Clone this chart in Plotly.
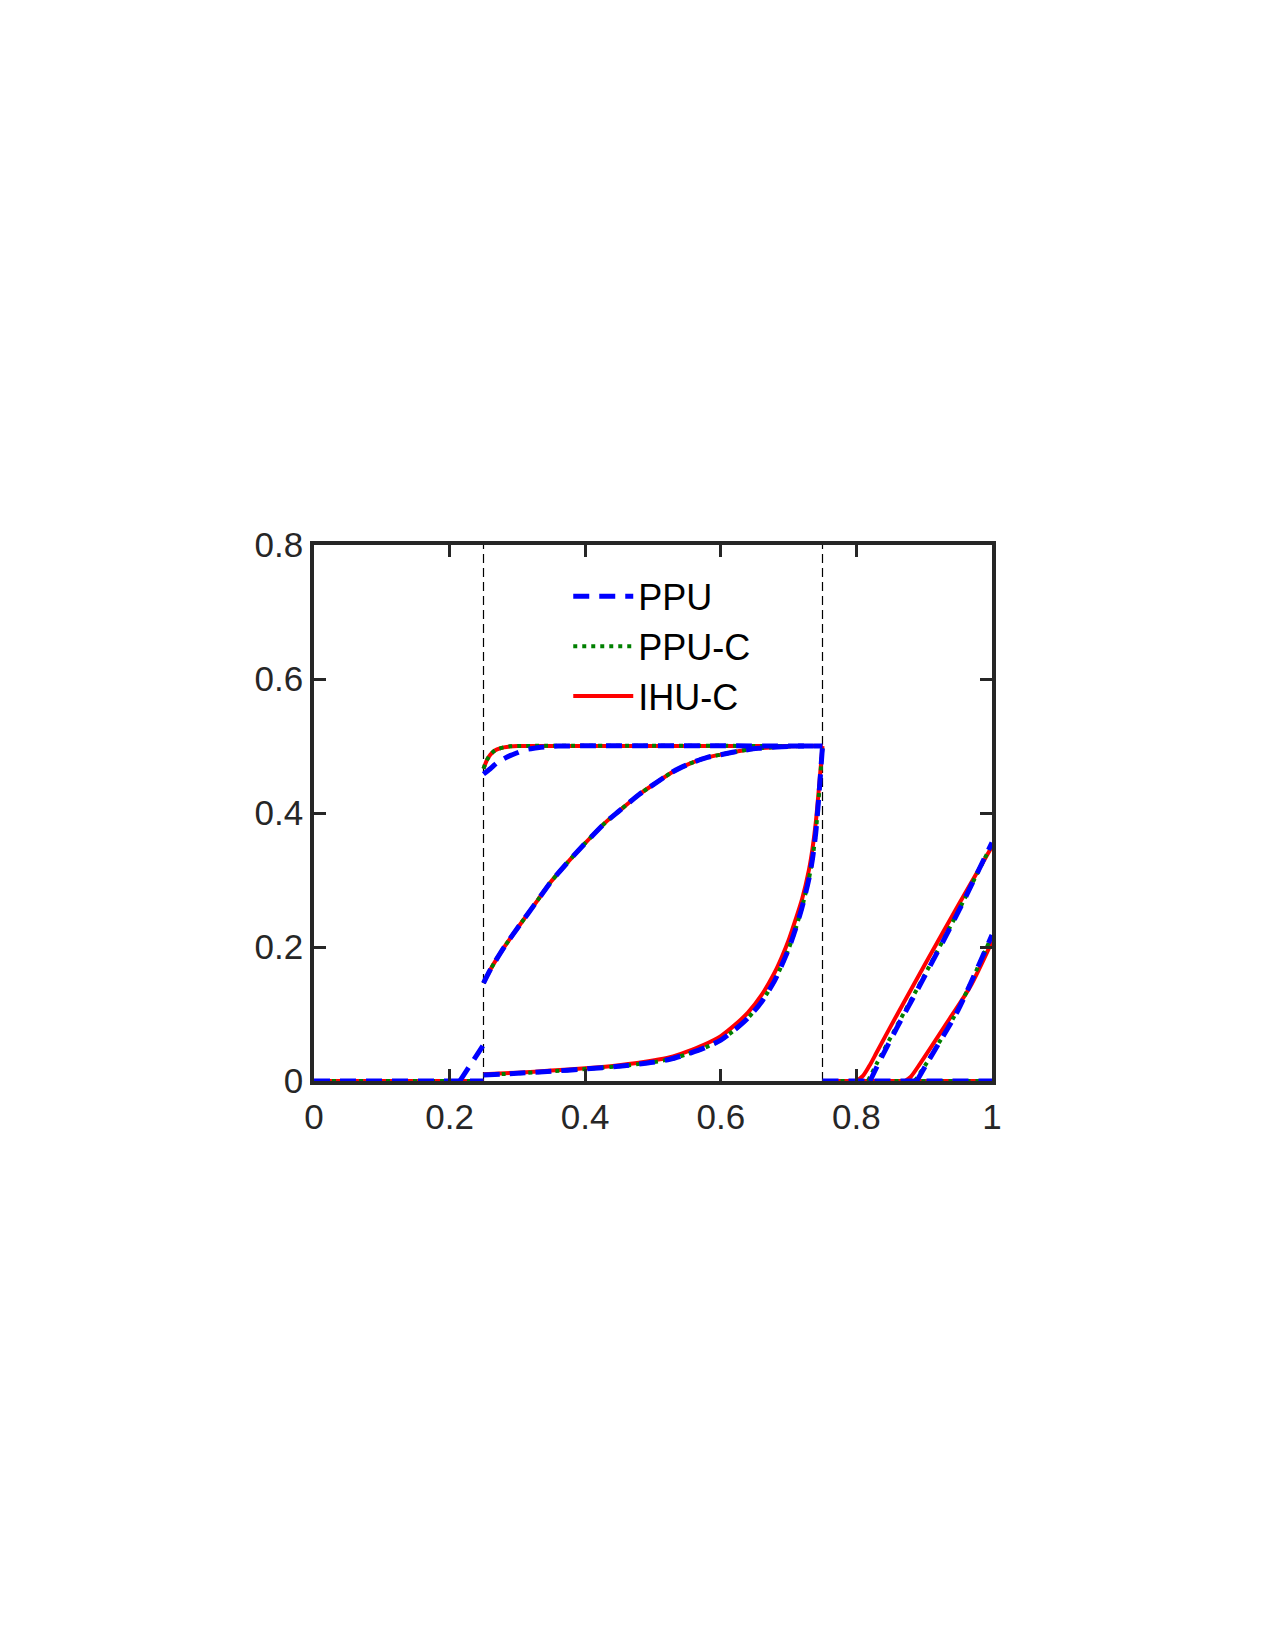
import plotly.graph_objects as go

# ---------------- data ----------------
interfaces = [0.25, 0.75]

# left region zero line (all methods)
left_x = [0.0, 0.25]
left_y = [0.0, 0.0]
# PPU only: small rise just before x = 0.25
ppu_rise_x = [0.215, 0.25]
ppu_rise_y = [0.0, 0.054]

# right region zero line (all methods)
right_x = [0.75, 1.0]
right_y = [0.0, 0.0]

# top snapshot in [0.25, 0.75]
top_x_c = [0.25, 0.255, 0.26, 0.265, 0.27, 0.28, 0.29, 0.30, 0.75]
top_y_c = [0.466, 0.479, 0.487, 0.492, 0.495, 0.498, 0.4995, 0.5, 0.5]
top_x_ppu = [0.25, 0.26, 0.27, 0.28, 0.29, 0.30, 0.31, 0.32, 0.335, 0.35, 0.36, 0.75]
top_y_ppu = [0.458, 0.466, 0.475, 0.481, 0.486, 0.490, 0.494, 0.496, 0.498, 0.4995, 0.5, 0.5]

# middle snapshot in [0.25, 0.75]
mid_x = [0.25, 0.26, 0.28, 0.30, 0.33, 0.35, 0.38, 0.40, 0.43, 0.45, 0.48, 0.50,
         0.53, 0.555, 0.58, 0.605, 0.63, 0.655, 0.69, 0.72, 0.75]
mid_y = [0.146, 0.166, 0.199, 0.228, 0.270, 0.298, 0.333, 0.355, 0.386, 0.403, 0.428, 0.442,
         0.462, 0.474, 0.483, 0.488, 0.493, 0.4965, 0.499, 0.5, 0.5]

# bottom snapshot in [0.25, 0.75]
bot_x = [0.25, 0.30, 0.35, 0.40, 0.45, 0.50, 0.525, 0.55, 0.575, 0.60, 0.62, 0.64, 0.66, 0.68,
         0.69, 0.70, 0.71, 0.72, 0.73, 0.735, 0.74, 0.745, 0.75]
bot_y_ihu = [0.010, 0.0125, 0.0155, 0.019, 0.0236, 0.0305, 0.0354, 0.0438, 0.054, 0.067, 0.083,
             0.102, 0.128, 0.163, 0.185, 0.210, 0.240, 0.272, 0.315, 0.345, 0.385, 0.44, 0.50]
bot_y_ppu = [0.009, 0.0115, 0.0145, 0.018, 0.022, 0.028, 0.0325, 0.040, 0.049, 0.061, 0.076,
             0.094, 0.118, 0.151, 0.173, 0.197, 0.226, 0.260, 0.302, 0.330, 0.370, 0.43, 0.50]

# right-region ramps
ramp1_x_ihu = [0.80, 0.81, 0.82, 0.83, 0.86, 0.90, 0.95, 1.0]
ramp1_y_ihu = [0.0, 0.008, 0.024, 0.043, 0.099, 0.172, 0.262, 0.350]
ramp1_x_ppuc = [0.817, 0.83, 0.86, 0.90, 0.95, 1.0]
ramp1_y_ppuc = [0.0, 0.026, 0.083, 0.157, 0.253, 0.354]
ramp1_x_ppu = [0.82, 0.835, 0.86, 0.90, 0.95, 1.0]
ramp1_y_ppu = [0.0, 0.031, 0.080, 0.155, 0.252, 0.356]

ramp2_x_ihu = [0.872, 0.88, 0.894, 0.933, 0.968, 1.0]
ramp2_y_ihu = [0.0, 0.006, 0.026, 0.086, 0.141, 0.208]
ramp2_x_ppuc = [0.886, 0.905, 0.95, 1.0]
ramp2_y_ppuc = [0.0, 0.029, 0.107, 0.217]
ramp2_x_ppu = [0.889, 0.905, 0.95, 1.0]
ramp2_y_ppu = [0.0, 0.028, 0.106, 0.218]

x_ticks = [0, 0.2, 0.4, 0.6, 0.8, 1]
x_tick_text = ["0", "0.2", "0.4", "0.6", "0.8", "1"]
y_ticks = [0, 0.2, 0.4, 0.6, 0.8]
y_tick_text = ["0", "0.2", "0.4", "0.6", "0.8"]


def join(segs):
    xs, ys = [], []
    for sx, sy in segs:
        if xs:
            xs.append(None)
            ys.append(None)
        xs.extend(sx)
        ys.extend(sy)
    return xs, ys


ihu_x, ihu_y = join([(left_x, left_y), (top_x_c, top_y_c), (mid_x, mid_y), (bot_x, bot_y_ihu),
                     (right_x, right_y), (ramp1_x_ihu, ramp1_y_ihu), (ramp2_x_ihu, ramp2_y_ihu)])
ppuc_x, ppuc_y = join([(left_x, left_y), (top_x_c, top_y_c), (mid_x, mid_y), (bot_x, bot_y_ppu),
                       (right_x, right_y), (ramp1_x_ppuc, ramp1_y_ppuc), (ramp2_x_ppuc, ramp2_y_ppuc)])
ppu_x, ppu_y = join([(left_x, left_y), (ppu_rise_x, ppu_rise_y), (top_x_ppu, top_y_ppu), (mid_x, mid_y),
                     (bot_x, bot_y_ppu), (right_x, right_y), (ramp1_x_ppu, ramp1_y_ppu),
                     (ramp2_x_ppu, ramp2_y_ppu)])

fig = go.Figure()

# interface dashed lines
for xi in interfaces:
    fig.add_trace(go.Scatter(x=[xi, xi], y=[0, 0.8], mode="lines", showlegend=False,
                             hoverinfo="skip",
                             line=dict(color="black", width=1.2, dash="9px,5px")))

fig.add_trace(go.Scatter(x=ihu_x, y=ihu_y, mode="lines", name="IHU-C",
                         line=dict(color="#ff0000", width=4, shape="spline", smoothing=0.7)))
fig.add_trace(go.Scatter(x=ppuc_x, y=ppuc_y, mode="lines", name="PPU-C",
                         line=dict(color="#008000", width=4, dash="4px,5px",
                                   shape="spline", smoothing=0.7)))
fig.add_trace(go.Scatter(x=ppu_x, y=ppu_y, mode="lines", name="PPU",
                         line=dict(color="#0000ff", width=5, dash="16px,10px",
                                   shape="spline", smoothing=0.7)))

axis_color = "#262626"
fig.update_layout(
    width=1275, height=1650,
    margin=dict(l=314, r=283, t=545, b=569),
    paper_bgcolor="white", plot_bgcolor="white",
    font=dict(family="Liberation Sans, Arial, sans-serif", color=axis_color),
    showlegend=True,
    legend=dict(x=0.375, y=0.96, xanchor="left", yanchor="top", traceorder="reversed",
                bgcolor="rgba(0,0,0,0)", font=dict(size=36, color="black"),
                itemwidth=60, tracegroupgap=0),
    xaxis=dict(range=[0, 1], tickvals=x_ticks, ticktext=x_tick_text, showgrid=False, zeroline=False,
               showline=True, linecolor=axis_color, linewidth=3.5, mirror="ticks",
               ticks="inside", ticklen=12, tickwidth=3, tickcolor=axis_color,
               ticklabelstandoff=2,
               tickfont=dict(size=35, color=axis_color)),
    yaxis=dict(range=[0, 0.8], tickvals=y_ticks, ticktext=y_tick_text, showgrid=False, zeroline=False,
               showline=True, linecolor=axis_color, linewidth=3.5, mirror="ticks",
               ticks="inside", ticklen=12, tickwidth=3, tickcolor=axis_color,
               tickfont=dict(size=35, color=axis_color)),
)

fig.write_html("out.html")
